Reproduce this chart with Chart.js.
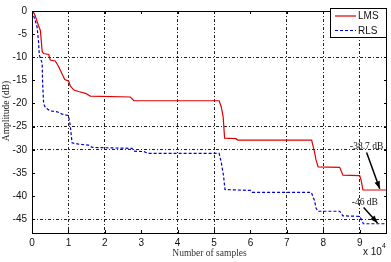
<!DOCTYPE html>
<html>
<head>
<meta charset="utf-8">
<script src="https://cdn.jsdelivr.net/npm/chart.js@4/dist/chart.umd.min.js"></script>
<style>
html,body{margin:0;padding:0;background:#fff;}
#wrap{position:relative;width:391px;height:262px;}
</style>
</head>
<body>
<div id="wrap"><canvas id="c" width="391" height="262"></canvas></div>
<script>
// ---- data (x in units of 10^4 samples, y in dB) ----
const lmsX = [0,0.05,0.09,0.18,0.23,0.28,0.32,0.46,0.5,0.64,0.73,0.83,0.9,1.01,1.05,1.15,1.28,1.47,1.6,2.7,2.8,5.14,5.2,5.25,5.29,5.6,5.65,7.68,7.76,7.8,7.86,8.45,8.54,9.0,9.04,9.09,9.75];
const lmsY = [0,-0.4,-1.1,-3.2,-4.2,-8.8,-9.2,-9.4,-10.6,-10.8,-12,-13.7,-14.8,-15.2,-16.2,-17.1,-17.4,-17.8,-18.4,-18.6,-19.4,-19.4,-20.8,-22.9,-27.5,-27.6,-27.9,-27.9,-30.5,-32.2,-33.7,-33.8,-35.5,-35.6,-36.6,-38.7,-38.7];
const rlsX = [0,0.09,0.14,0.18,0.2,0.23,0.28,0.29,0.32,0.37,0.5,0.69,0.83,1.0,1.05,1.1,1.28,1.55,1.65,2.75,2.8,3.07,3.2,5.14,5.2,5.26,5.3,6.0,6.05,7.67,7.76,7.8,7.85,8.45,8.54,9.0,9.05,9.1,9.75];
const rlsY = [0,-2.1,-3.5,-6.7,-9.5,-10.2,-11.3,-15.2,-20.1,-20.9,-21.6,-21.8,-22.3,-22.6,-24.7,-28.5,-28.8,-29.0,-29.5,-29.7,-30.3,-30.4,-30.8,-30.8,-32.8,-35.6,-38.6,-38.8,-39.2,-39.2,-41.0,-42.6,-43.3,-43.3,-44.3,-44.4,-45.1,-46,-46];
const seriesLabels = ['LMS','RLS'];
const xTicks = [0,1,2,3,4,5,6,7,8,9];
const yTicks = [0,-5,-10,-15,-20,-25,-30,-35,-40,-45];
const xGridShown = [1,2,4,5,7,8,9];
const yGridShown = [-10,-25,-30,-45];
const annoLabels = ['-38.7 dB','-46 dB'];
const annoTargets = [[9.55,-38.45],[9.49,-45.85]];

const toPts = (xs, ys) => xs.map((x,i)=>({x:x, y:ys[i]}));
const RED = 'rgb(225,0,0)', BLUE = 'rgb(0,0,210)';

const annotations = [
  {text: annoLabels[0], tx: 9.19, ty: -29.2, from:[9.19,-30.6], to: annoTargets[0]},
  {text: annoLabels[1], tx: 9.14, ty: -41.4, from:[9.11,-42.5], to: annoTargets[1]}
];

const deco = {
  id: 'deco',
  afterDraw(chart) {
    const ctx = chart.ctx, a = chart.chartArea;
    const xs = chart.scales.x, ys = chart.scales.y;
    ctx.save();
    // box
    ctx.strokeStyle = '#000'; ctx.lineWidth = 1; ctx.setLineDash([]);
    ctx.strokeRect(Math.round(a.left)+0.5, Math.round(a.top)+0.5, Math.round(a.right-a.left)-1, Math.round(a.bottom-a.top));
    // small inward ticks
    ctx.beginPath();
    xTicks.forEach(v => { const p = Math.round(xs.getPixelForValue(v))+0.5;
      ctx.moveTo(p, a.bottom); ctx.lineTo(p, a.bottom-3); ctx.moveTo(p, a.top); ctx.lineTo(p, a.top+3); });
    yTicks.forEach(v => { const p = Math.round(ys.getPixelForValue(v))+0.5;
      ctx.moveTo(a.left, p); ctx.lineTo(a.left+3, p); ctx.moveTo(a.right, p); ctx.lineTo(a.right-3, p); });
    ctx.stroke();
    // annotations
    annotations.forEach(an => {
      const x1 = xs.getPixelForValue(an.from[0]), y1 = ys.getPixelForValue(an.from[1]);
      const x2 = xs.getPixelForValue(an.to[0]), y2 = ys.getPixelForValue(an.to[1]);
      ctx.strokeStyle = '#000'; ctx.fillStyle = '#000'; ctx.lineWidth = 1.5;
      ctx.beginPath(); ctx.moveTo(x1,y1); ctx.lineTo(x2,y2); ctx.stroke();
      const ang = Math.atan2(y2-y1, x2-x1), L = 8, W = 0.35;
      ctx.beginPath(); ctx.moveTo(x2,y2);
      ctx.lineTo(x2 - L*Math.cos(ang-W), y2 - L*Math.sin(ang-W));
      ctx.lineTo(x2 - L*Math.cos(ang+W), y2 - L*Math.sin(ang+W));
      ctx.closePath(); ctx.fill();
      ctx.font = '9.5px "Liberation Serif", "Times New Roman", serif';
      ctx.textAlign = 'center'; ctx.textBaseline = 'middle';
      ctx.fillStyle = '#111';
      ctx.fillText(an.text, xs.getPixelForValue(an.tx), ys.getPixelForValue(an.ty));
    });
    // legend
    const lx = 330, ly = 8, lw = Math.round(a.right) - 1 - lx, lh = 29;
    ctx.fillStyle = '#fff'; ctx.fillRect(lx, ly, lw, lh);
    ctx.strokeStyle = '#000'; ctx.lineWidth = 1; ctx.setLineDash([]);
    ctx.strokeRect(lx+0.5, ly+0.5, lw, lh);
    const items = chart.data.datasets;
    items.forEach((ds, i) => {
      const yy = ly + 8 + i*14.5;
      ctx.strokeStyle = ds.borderColor; ctx.lineWidth = 1.2;
      ctx.setLineDash(ds.borderDash || []);
      ctx.beginPath(); ctx.moveTo(lx+5, yy); ctx.lineTo(lx+26, yy); ctx.stroke();
      ctx.setLineDash([]);
      ctx.fillStyle = '#111'; ctx.font = '10px "Liberation Sans", Arial, sans-serif';
      ctx.textAlign = 'left'; ctx.textBaseline = 'middle';
      ctx.fillText(ds.label, lx+28, yy+0.5);
    });
    // y title
    ctx.save();
    ctx.translate(6, 111); ctx.rotate(-Math.PI/2);
    ctx.font = '9.5px "Liberation Serif", "Times New Roman", serif';
    ctx.fillStyle = '#222'; ctx.textAlign = 'center'; ctx.textBaseline = 'middle';
    ctx.fillText('Amplitude (dB)', 0, 0);
    ctx.restore();
    // x 10^4
    ctx.fillStyle = '#111'; ctx.font = '10px "Liberation Sans", Arial, sans-serif';
    ctx.textAlign = 'left'; ctx.textBaseline = 'middle';
    ctx.fillText('x 10', 363, 252);
    ctx.font = '7px "Liberation Sans", Arial, sans-serif';
    ctx.fillText('4', 382, 246);
    ctx.restore();
  }
};

new Chart(document.getElementById('c'), {
  type: 'line',
  data: {
    datasets: [
      {label: seriesLabels[0], data: toPts(lmsX, lmsY), borderColor: RED, borderWidth: 1.2, pointRadius: 0, tension: 0, fill: false},
      {label: seriesLabels[1], data: toPts(rlsX, rlsY), borderColor: BLUE, borderWidth: 1.2, borderDash: [3,2], pointRadius: 0, tension: 0, fill: false}
    ]
  },
  options: {
    responsive: false,
    animation: false,
    devicePixelRatio: 1,
    layout: {padding: {top: 4, right: 4, left: 0, bottom: 0}},
    plugins: {legend: {display: false}, tooltip: {enabled: false}},
    scales: {
      x: {
        type: 'linear', min: 0, max: 9.75,
        afterFit: s => { s.height = 29; },
        ticks: {stepSize: 1, includeBounds: false, padding: 4, color: '#111',
          font: {family: '"Liberation Sans", Arial, sans-serif', size: 10}, maxRotation: 0},
        grid: {drawTicks: false, lineWidth: 1,
          color: c => (c.tick && xGridShown.includes(c.tick.value)) ? '#222' : 'rgba(0,0,0,0)'},
        border: {display: false, dash: [3,2,1,2]},
        title: {display: true, text: 'Number of samples', color: '#333',
          font: {family: '"Liberation Serif", "Times New Roman", serif', size: 9.5}, padding: {top: 0, bottom: 2.5}}
      },
      y: {
        min: -48, max: 0,
        afterFit: s => { s.width = 32; },
        ticks: {stepSize: 5, includeBounds: false, padding: 5, color: '#111',
          font: {family: '"Liberation Sans", Arial, sans-serif', size: 10}},
        grid: {drawTicks: false, lineWidth: 1,
          color: c => (c.tick && yGridShown.includes(c.tick.value)) ? '#222' : 'rgba(0,0,0,0)'},
        border: {display: false, dash: [3,2,1,2]}
      }
    }
  },
  plugins: [deco]
});
</script>
</body>
</html>
